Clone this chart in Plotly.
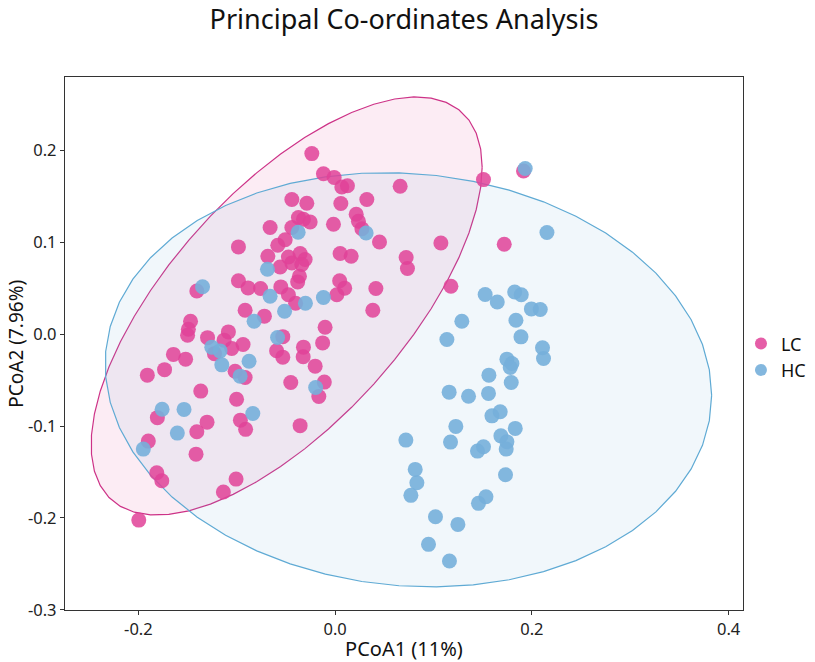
import numpy as np
import plotly.graph_objects as go

# PCoA scores
lc_x = [-0.0237, -0.0119, -0.0010, 0.0068, 0.0125, -0.0440, -0.0288, 0.0058, 0.0322, 0.0661,
        0.1508, 0.1915, 0.0214, 0.0237, 0.0272, 0.0451, 0.1075, 0.1719, -0.0373, -0.0322,
        -0.0254, -0.0017, -0.0661, -0.0440, -0.0508, -0.0583, -0.0983, 0.0051, 0.0163, -0.0684,
        -0.0475, -0.0356, -0.0305, -0.0440, -0.0339, -0.0559, 0.0722, 0.0735, -0.0363, -0.0381,
        -0.0983, -0.0885, -0.0758, -0.0552, 0.0046, 0.0097, 0.0017, 0.0414, -0.1406, -0.0475,
        -0.0402, 0.0383, -0.0915, -0.0719, 0.1177, -0.0102, -0.1470, -0.1492, -0.1500, -0.1297,
        -0.1085, -0.1129, -0.1051, -0.0936, -0.1227, -0.0532, -0.0595, -0.0532, -0.0322, -0.0325,
        -0.0127, -0.1644, -0.1520, -0.1734, -0.1909, -0.1017, -0.0915, -0.0203, -0.0451, -0.0110,
        -0.0166, -0.1366, -0.1002, -0.1807, -0.0963, -0.0910, -0.1302, -0.1406, -0.0356, -0.1899,
        -0.1414, -0.1813, -0.1762, -0.1007, -0.1136, -0.1996]
lc_y = [0.1966, 0.1746, 0.1705, 0.1603, 0.1616, 0.1466, 0.1425, 0.1422, 0.1466, 0.1610,
        0.1683, 0.1777, 0.1306, 0.1230, 0.1148, 0.1004, 0.0993, 0.0979, 0.1270, 0.1251,
        0.1222, 0.1197, 0.1161, 0.1161, 0.1028, 0.0968, 0.0950, 0.0878, 0.0849, 0.0849,
        0.0841, 0.0878, 0.0813, 0.0776, 0.0758, 0.0732, 0.0835, 0.0715, 0.0631, 0.0569,
        0.0582, 0.0504, 0.0497, 0.0515, 0.0582, 0.0501, 0.0430, 0.0497, 0.0470, 0.0430,
        0.0337, 0.0261, 0.0261, 0.0196, 0.0522, 0.0076, 0.0141, 0.0054, -0.0011, -0.0038,
        0.0025, -0.0065, -0.0156, -0.0112, -0.0212, -0.0027, -0.0180, -0.0250, -0.0141, -0.0245,
        -0.0095, -0.0220, -0.0272, -0.0386, -0.0446, -0.0403, -0.0471, -0.0348, -0.0526, -0.0522,
        -0.0678, -0.0620, -0.0709, -0.0909, -0.0936, -0.1036, -0.0958, -0.1063, -0.0996, -0.1164,
        -0.1306, -0.1509, -0.1596, -0.1578, -0.1719, -0.2024]

hc_x = [-0.0376, 0.0315, -0.0688, -0.1348, -0.0661, -0.0119, -0.0302, -0.0514, -0.0824, -0.0585,
        -0.1254, -0.1170, -0.1152, -0.0875, -0.0966, -0.0198, -0.1759, -0.1536, -0.0837, -0.1604,
        -0.1950, 0.1932, 0.2153,
        0.1525, 0.1648, 0.1825, 0.1892, 0.1995, 0.2085, 0.1288, 0.1838, 0.1136, 0.1889,
        0.2108, 0.2118, 0.1746, 0.1797, 0.1780, 0.1563, 0.1790, 0.1159, 0.1356, 0.1559,
        0.1594, 0.1678, 0.1831, 0.1227, 0.0719, 0.1173, 0.1685, 0.1746, 0.1739, 0.1447,
        0.1508, 0.0814, 0.0831, 0.0770, 0.1732, 0.1457, 0.1533, 0.1020, 0.1248, 0.0949,
        0.1162]
hc_y = [0.1110, 0.1102, 0.0707, 0.0517, 0.0413, 0.0399, 0.0337, 0.0250, 0.0141, -0.0036,
        -0.0141, -0.0182, -0.0334, -0.0294, -0.0457, -0.0580, -0.0818, -0.0819, -0.0863, -0.1077,
        -0.1251, 0.1803, 0.1107,
        0.0432, 0.0351, 0.0460, 0.0430, 0.0275, 0.0269, 0.0141, 0.0152, -0.0058, -0.0029,
        -0.0147, -0.0264, -0.0272, -0.0319, -0.0362, -0.0446, -0.0526, -0.0631, -0.0675, -0.0645,
        -0.0889, -0.0845, -0.1026, -0.1004, -0.1153, -0.1175, -0.1107, -0.1172, -0.1251, -0.1273,
        -0.1226, -0.1472, -0.1618, -0.1755, -0.1531, -0.1842, -0.1770, -0.1988, -0.2071, -0.2288,
        -0.2470]

x_ticks = [-0.2, 0.0, 0.2, 0.4]
x_labels = ["-0.2", "0.0", "0.2", "0.4"]
y_ticks = [0.2, 0.1, 0.0, -0.1, -0.2, -0.3]
y_labels = ["0.2", "0.1", "0.0", "-0.1", "-0.2", "-0.3"]

PINK = "rgb(224,66,152)"
BLUE = "rgb(117,175,218)"


def conf_ellipse(xs, ys, level=0.95, segments=51):
    """95% normal-theory ellipse (like stat_ellipse(type = "norm"))."""
    pts = np.column_stack([xs, ys])
    center = pts.mean(axis=0)
    shape = np.cov(pts, rowvar=False)
    dfd = len(xs) - 1
    # F(2, dfd) quantile has a closed form
    q = dfd / 2 * ((1 - level) ** (-2 / dfd) - 1)
    radius = np.sqrt(2 * q)
    R = np.linalg.cholesky(shape).T
    t = np.linspace(0, 2 * np.pi, segments + 1)
    circle = np.column_stack([np.cos(t), np.sin(t)])
    ell = center + radius * (circle @ R)
    return ell[:, 0], ell[:, 1]


fig = go.Figure()

# ellipses first so the points sit on top
for xs, ys, line_c, fill_c in [
    (lc_x, lc_y, "rgb(205,50,135)", "rgba(224,66,152,0.1)"),
    (hc_x, hc_y, "rgb(95,170,212)", "rgba(117,175,218,0.1)"),
]:
    ex, ey = conf_ellipse(xs, ys)
    fig.add_trace(go.Scatter(
        x=ex, y=ey, mode="lines", fill="toself",
        fillcolor=fill_c, line=dict(color=line_c, width=1.2),
        showlegend=False, hoverinfo="skip"
    ))

fig.add_trace(go.Scatter(
    x=lc_x, y=lc_y, mode="markers", name="LC",
    marker=dict(color=PINK, size=15, opacity=0.85)
))
fig.add_trace(go.Scatter(
    x=hc_x, y=hc_y, mode="markers", name="HC",
    marker=dict(color=BLUE, size=15, opacity=0.9)
))

axis_style = dict(
    showgrid=False, zeroline=False, showline=True, mirror=True, automargin=False,
    linecolor="#333333", linewidth=1.3, ticks="outside", ticklen=4,
    tickcolor="#333333", tickfont=dict(size=16.5, color="#222222"),
)

fig.update_layout(
    width=815, height=662,
    paper_bgcolor="white", plot_bgcolor="white",
    font=dict(family="Noto Sans", color="#111111"),
    margin=dict(l=65, r=72, t=77, b=52, autoexpand=False),
    title=dict(text="Principal Co-ordinates Analysis", x=0.5, xref="paper",
               y=0.971, yref="container", yanchor="middle",
               font=dict(size=27, color="#111111")),
    xaxis=dict(range=[-0.2746, 0.4146], tickvals=x_ticks, ticktext=x_labels,
               title=dict(text="PCoA1 (11%)", font=dict(size=20), standoff=0),
               **axis_style),
    yaxis=dict(range=[-0.3003, 0.2800], tickvals=y_ticks, ticktext=y_labels,
               **axis_style),
    legend=dict(x=0.997, y=0.475, xanchor="left", yanchor="middle",
                bgcolor="rgba(0,0,0,0)",
                font=dict(size=18, color="#111111"), tracegroupgap=0,
                itemsizing="constant"),
)

# y title placed by hand: it sits closer to the edge than plotly's default
fig.add_annotation(
    text="PCoA2 (7.96%)", textangle=-90, showarrow=False,
    xref="paper", yref="paper", x=-0.0735, y=0.5,
    xanchor="center", yanchor="middle",
    font=dict(size=19, color="#111111"),
)

# drop the default 8px body margin so the figure fills the window exactly
fig.write_html("out.html", config={"displayModeBar": False},
               post_script="document.body.style.margin = '0';")
